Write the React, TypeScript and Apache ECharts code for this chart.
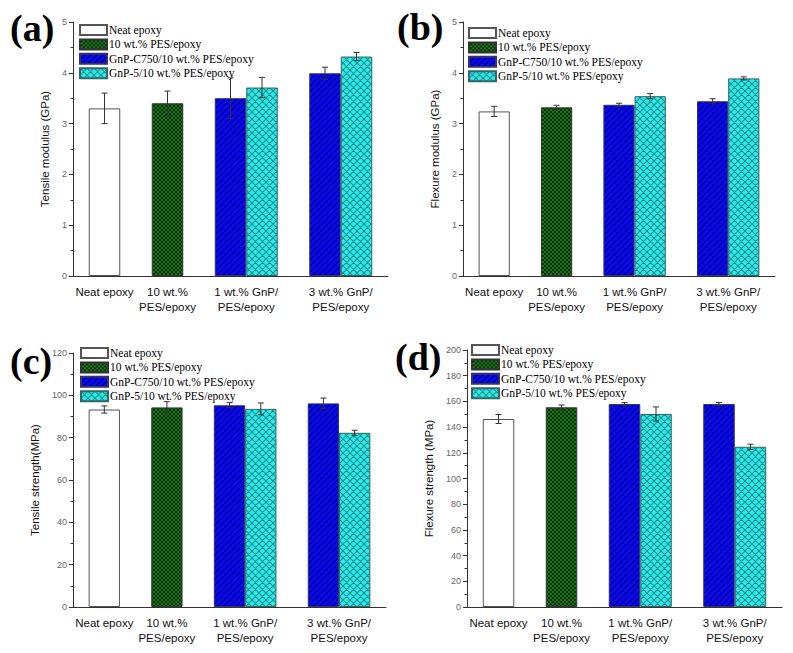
import React, { useEffect, useRef } from 'react';
import * as echarts from 'echarts';

// ---------- data ----------
const categoryLabels = ['Neat epoxy', '10 wt.%\nPES/epoxy', '1 wt.% GnP/\nPES/epoxy', '3 wt.% GnP/\nPES/epoxy'];
const seriesNames = ['Neat epoxy', '10 wt.% PES/epoxy', 'GnP-C750/10 wt.% PES/epoxy', 'GnP-5/10 wt.% PES/epoxy'];

// [series][category], null = no bar
const tensileModulusMean = [
  [3.30, null, null, null],
  [null, 3.40, null, null],
  [null, null, 3.50, 3.99],
  [null, null, 3.71, 4.32],
];
const tensileModulusErr = [
  [0.30, null, null, null],
  [null, 0.24, null, null],
  [null, null, 0.40, 0.12],
  [null, null, 0.20, 0.08],
];
const flexureModulusMean = [
  [3.24, null, null, null],
  [null, 3.32, null, null],
  [null, null, 3.37, 3.44],
  [null, null, 3.54, 3.89],
];
const flexureModulusErr = [
  [0.10, null, null, null],
  [null, 0.04, null, null],
  [null, null, 0.03, 0.05],
  [null, null, 0.05, 0.03],
];
const tensileStrengthMean = [
  [93.3, null, null, null],
  [null, 94.3, null, null],
  [null, null, 95.3, 96.2],
  [null, null, 93.6, 82.3],
];
const tensileStrengthErr = [
  [1.7, null, null, null],
  [null, 2.7, null, null],
  [null, null, 1.2, 2.5],
  [null, null, 2.8, 1.2],
];
const flexureStrengthMean = [
  [146.3, null, null, null],
  [null, 155.4, null, null],
  [null, null, 158.0, 158.0],
  [null, null, 150.2, 124.7],
];
const flexureStrengthErr = [
  [3.5, null, null, null],
  [null, 1.8, null, null],
  [null, null, 1.0, 1.2],
  [null, null, 5.5, 2.0],
];

// ---------- layout ----------
const categoryCenters = [1, 2, 3.25, 4.75];
const xMin = 0.5;
const xMax = 5.5;
const barUnit = 0.5;

type PanelCfg = {
  letter: string;
  left: number; top: number; width: number; height: number;
  grid: { left: number; top: number; width: number; height: number };
  legend: { left: number; top: number };
  letterPos: { left: number; top: number };
  yMax: number; yInterval: number; yName: string; nameGap: number;
  mean: (number | null)[][];
  err: (number | null)[][];
};

const panels: PanelCfg[] = [
  {
    letter: '(a)', left: 0, top: 0, width: 395, height: 320,
    grid: { left: 73, top: 22, width: 315, height: 254 },
    legend: { left: 79, top: 24 }, letterPos: { left: 10, top: 9 },
    yMax: 5, yInterval: 1, yName: 'Tensile modulus (GPa)', nameGap: 20,
    mean: tensileModulusMean, err: tensileModulusErr,
  },
  {
    letter: '(b)', left: 395, top: 0, width: 398, height: 320,
    grid: { left: 68, top: 22, width: 312, height: 254 },
    legend: { left: 73, top: 27 }, letterPos: { left: 2, top: 8 },
    yMax: 5, yInterval: 1, yName: 'Flexure modulus (GPa)', nameGap: 20,
    mean: flexureModulusMean, err: flexureModulusErr,
  },
  {
    letter: '(c)', left: 0, top: 320, width: 395, height: 333,
    grid: { left: 73, top: 33, width: 313, height: 254 },
    legend: { left: 80, top: 27 }, letterPos: { left: 10, top: 22 },
    yMax: 120, yInterval: 20, yName: 'Tensile strength(MPa)', nameGap: 25,
    mean: tensileStrengthMean, err: tensileStrengthErr,
  },
  {
    letter: '(d)', left: 395, top: 320, width: 398, height: 333,
    grid: { left: 72, top: 30, width: 315, height: 257 },
    legend: { left: 76, top: 24 }, letterPos: { left: 0, top: 18 },
    yMax: 200, yInterval: 20, yName: 'Flexure strength (MPa)', nameGap: 29,
    mean: flexureStrengthMean, err: flexureStrengthErr,
  },
];

// ---------- fills ----------
function hatch(bg: string, line: string, size: number, lw: number, dirs: string[]) {
  const c = document.createElement('canvas');
  c.width = size; c.height = size;
  const ctx = c.getContext('2d')!;
  ctx.fillStyle = bg;
  ctx.fillRect(0, 0, size, size);
  ctx.strokeStyle = line;
  ctx.lineWidth = lw;
  ctx.beginPath();
  for (const d of dirs) {
    for (let k = -1; k <= 1; k++) {
      if (d === '/') {
        ctx.moveTo(k * size, size);
        ctx.lineTo(k * size + size, 0);
      } else {
        ctx.moveTo(k * size, 0);
        ctx.lineTo(k * size + size, size);
      }
    }
  }
  ctx.stroke();
  return { image: c, repeat: 'repeat' };
}

let fillCache: any[] | null = null;
function getFills() {
  if (fillCache) return fillCache;
  fillCache = [
    { color: '#ffffff', border: '#555555' },
    { color: hatch('#1f6f1f', '#063806', 4, 1, ['/', '\\']), border: '#333333' },
    { color: hatch('#0a0af2', '#000088', 6, 1.3, ['/']), border: '#333366' },
    { color: hatch('#22f0f0', '#2a8a8a', 7, 1.1, ['/', '\\']), border: '#336666' },
  ];
  return fillCache;
}

function barX(mean: (number | null)[][], s: number, c: number) {
  const present: number[] = [];
  mean.forEach((row, i) => { if (row[c] != null) present.push(i); });
  const k = present.indexOf(s);
  const n = present.length;
  return categoryCenters[c] + (k - (n - 1) / 2) * barUnit;
}

function buildOption(cfg: PanelCfg) {
  const fills = getFills();
  const bars = seriesNames.map((name, s) => ({
    type: 'bar',
    name,
    barGap: '-100%',
    barCategoryGap: 0,
    itemStyle: { color: fills[s].color, borderColor: fills[s].border, borderWidth: 1 },
    data: cfg.mean[s]
      .map((v, c) => (v == null ? null : [barX(cfg.mean, s, c), v]))
      .filter((d) => d != null),
    z: 2,
  }));
  const errData: number[][] = [];
  cfg.mean.forEach((row, s) => row.forEach((v, c) => {
    const e = cfg.err[s][c];
    if (v != null && e != null) errData.push([barX(cfg.mean, s, c), v, e]);
  }));
  const errSeries = {
    type: 'custom',
    name: 'error',
    z: 5,
    encode: { x: 0, y: 1 },
    data: errData,
    renderItem: (params: any, api: any) => {
      const x = api.value(0);
      const m = api.value(1);
      const e = api.value(2);
      const t = api.coord([x, m + e]);
      const b = api.coord([x, m - e]);
      const h = 3;
      const st = { stroke: '#333333', lineWidth: 1 };
      return {
        type: 'group',
        children: [
          { type: 'line', shape: { x1: t[0], y1: t[1], x2: b[0], y2: b[1] }, style: st },
          { type: 'line', shape: { x1: t[0] - h, y1: t[1], x2: t[0] + h, y2: t[1] }, style: st },
          { type: 'line', shape: { x1: b[0] - h, y1: b[1], x2: b[0] + h, y2: b[1] }, style: st },
        ],
      };
    },
  };
  return {
    animation: false,
    backgroundColor: '#ffffff',
    textStyle: { fontFamily: 'Arial, "Liberation Sans", sans-serif' },
    grid: { ...cfg.grid },
    legend: {
      data: seriesNames,
      orient: 'vertical',
      left: cfg.legend.left,
      top: cfg.legend.top,
      padding: 0,
      icon: 'rect',
      itemWidth: 27,
      itemHeight: 10,
      itemGap: 2.4,
      selectedMode: false,
      textStyle: { fontFamily: '"Liberation Serif", "Times New Roman", serif', fontSize: 11.5, color: '#000', lineHeight: 12, padding: [0, 0, 0, -3] },
    },
    xAxis: {
      type: 'value',
      min: xMin,
      max: xMax,
      splitLine: { show: false },
      axisLine: { show: true, lineStyle: { color: '#333', width: 1 } },
      axisTick: { show: false },
      axisLabel: {
        customValues: categoryCenters,
        formatter: (v: number) => {
          const i = categoryCenters.findIndex((c) => Math.abs(c - v) < 1e-6);
          return i >= 0 ? categoryLabels[i] : '';
        },
        fontSize: 11.5,
        lineHeight: 15,
        color: '#111',
        margin: 8,
        fontFamily: 'Arial, "Liberation Sans", sans-serif',
      },
    },
    yAxis: {
      type: 'value',
      min: 0,
      max: cfg.yMax,
      interval: cfg.yInterval,
      name: cfg.yName,
      nameLocation: 'middle',
      nameGap: cfg.nameGap,
      nameTextStyle: { fontSize: 11.5, color: '#111', fontFamily: 'Arial, "Liberation Sans", sans-serif' },
      splitLine: { show: false },
      axisLine: { show: true, lineStyle: { color: '#333', width: 1 } },
      axisTick: { show: true, inside: false, length: 4, lineStyle: { color: '#333' } },
      minorTick: { show: true, splitNumber: 2, length: 2.5, lineStyle: { color: '#333' } },
      axisLabel: { fontSize: 9, color: '#666', margin: 6, fontFamily: 'Arial, "Liberation Sans", sans-serif' },
    },
    graphic: [
      {
        type: 'text',
        left: cfg.letterPos.left,
        top: cfg.letterPos.top,
        style: { text: cfg.letter, font: 'bold 38px "Liberation Serif", "Times New Roman", serif', fill: '#000' },
      },
    ],
    series: [...bars, errSeries],
  };
}

function Panel({ cfg }: { cfg: PanelCfg }) {
  const ref = useRef<HTMLDivElement>(null);
  useEffect(() => {
    const chart = echarts.init(ref.current!, null, { renderer: 'svg' });
    chart.setOption(buildOption(cfg) as any);
    return () => chart.dispose();
  }, [cfg]);
  return (
    <div
      ref={ref}
      style={{ position: 'absolute', left: cfg.left, top: cfg.top, width: cfg.width, height: cfg.height }}
    />
  );
}

export default function App() {
  return (
    <div style={{ position: 'fixed', left: 0, top: 0, width: 793, height: 653, background: '#fff', overflow: 'hidden' }}>
      {panels.map((p) => (
        <Panel key={p.letter} cfg={p} />
      ))}
    </div>
  );
}
